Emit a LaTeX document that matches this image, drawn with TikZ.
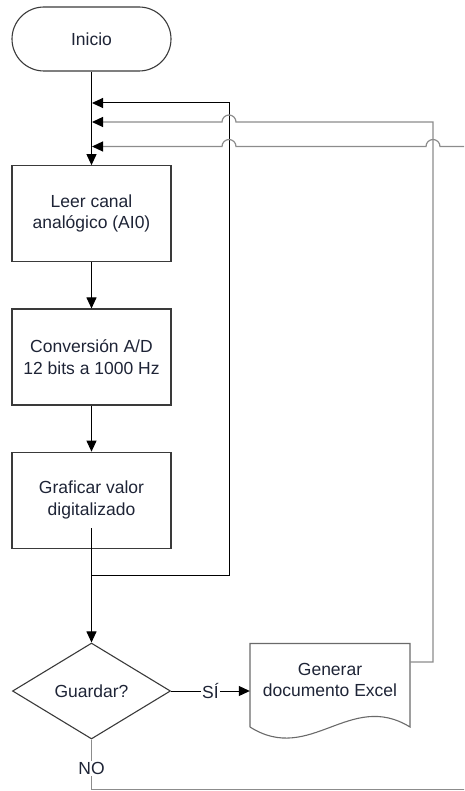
\documentclass[tikz,border=0pt]{standalone}
\usepackage{fontspec}
\setmainfont{Liberation Sans}
\usetikzlibrary{arrows.meta,shapes.geometric}
\definecolor{txt}{HTML}{1E2436}
\definecolor{edge}{HTML}{3A3A3A}
\definecolor{docedge}{HTML}{6A6A6A}
\definecolor{gline}{HTML}{8C8C8C}
\begin{document}
\begin{tikzpicture}[x=1pt,y=-1pt,
  every node/.style={font=\fontsize{17.5}{21.5}\selectfont, text=txt},
  proc/.style={draw=edge, line width=1.1pt, rectangle, minimum width=159pt, minimum height=96pt, align=center, inner sep=0pt},
  term/.style={draw=edge, line width=1.1pt, rectangle, rounded corners=32pt, minimum width=159pt, minimum height=64pt, inner sep=0pt},
  decis/.style={draw=edge, line width=1.1pt, diamond, aspect=1.65, minimum width=158pt, minimum height=96pt, inner sep=0pt},
  flow/.style={draw=black, line width=1pt, -{Triangle[length=11pt,width=10pt]}},
  gflow/.style={draw=gline, line width=1.2pt, -{Triangle[length=11pt,width=10pt,color=black]}},
  lbl/.style={fill=white, inner sep=1.5pt}
]
\path[use as bounding box] (0,0) rectangle (464,791);
\clip (0,0) rectangle (464,791);

\node[term] (ini) at (91.5,39) {Inicio};
\node[proc] (b1) at (91.5,213.7) {Leer canal\\analógico (AI0)};
\node[proc] (b2) at (91.5,357) {Conversión A/D\\12 bits a 1000 Hz};
\node[proc] (b3) at (91.5,500.2) {Graficar valor\\digitalizado};
\node[decis] (dia) at (91.5,691) {Guardar?};
\node[align=center, inner sep=0pt, minimum width=160pt] (doc) at (330,680) {Generar\\documento Excel};
\draw[draw=docedge, line width=1.1pt] (250,727) -- (250,643.5) -- (410,643.5) -- (410,727)
  .. controls (350,690) and (310,765) .. (250,727);

% coordinates
\coordinate (j1) at (92,103);
\coordinate (j2) at (92,122);
\coordinate (j3) at (92,146.5);
\coordinate (g0) at (91.5,528);
\coordinate (g1) at (91.5,575.7);
\coordinate (g2) at (229,575.7);
\coordinate (dr) at (410,662);
\coordinate (xr) at (433,662);
\coordinate (nb) at (91.5,789.5);
\coordinate (nr) at (480,789.5);

% main flow
\draw[flow] (ini.south) -- (b1.north);
\draw[flow] (b1.south) -- (b2.north);
\draw[flow] (b2.south) -- (b3.north);
\draw[flow] (g0) -- (dia.north);

% loop back from Graficar
\draw[flow] (g1) -- (g2) -- (229,103) -- (j1);

% SI branch
\draw[flow] (dia.east) -- node[lbl]{SÍ} (dia.east -| doc.west);

% loop back from document
\draw[gflow] (dr) -- (xr) -- (433,122) -- (236,122)
  arc[start angle=0, end angle=180, radius=7pt] -- (j2);

% NO branch
\draw[draw=gline, line width=1.2pt] (dia.south) -- node[lbl, pos=0.58]{NO} (nb) -- (nr);
\draw[gflow] (nr) -- (480,146.5) -- (440,146.5)
  arc[start angle=0, end angle=180, radius=7pt] -- (236,146.5)
  arc[start angle=0, end angle=180, radius=7pt] -- (j3);
\end{tikzpicture}
\end{document}
